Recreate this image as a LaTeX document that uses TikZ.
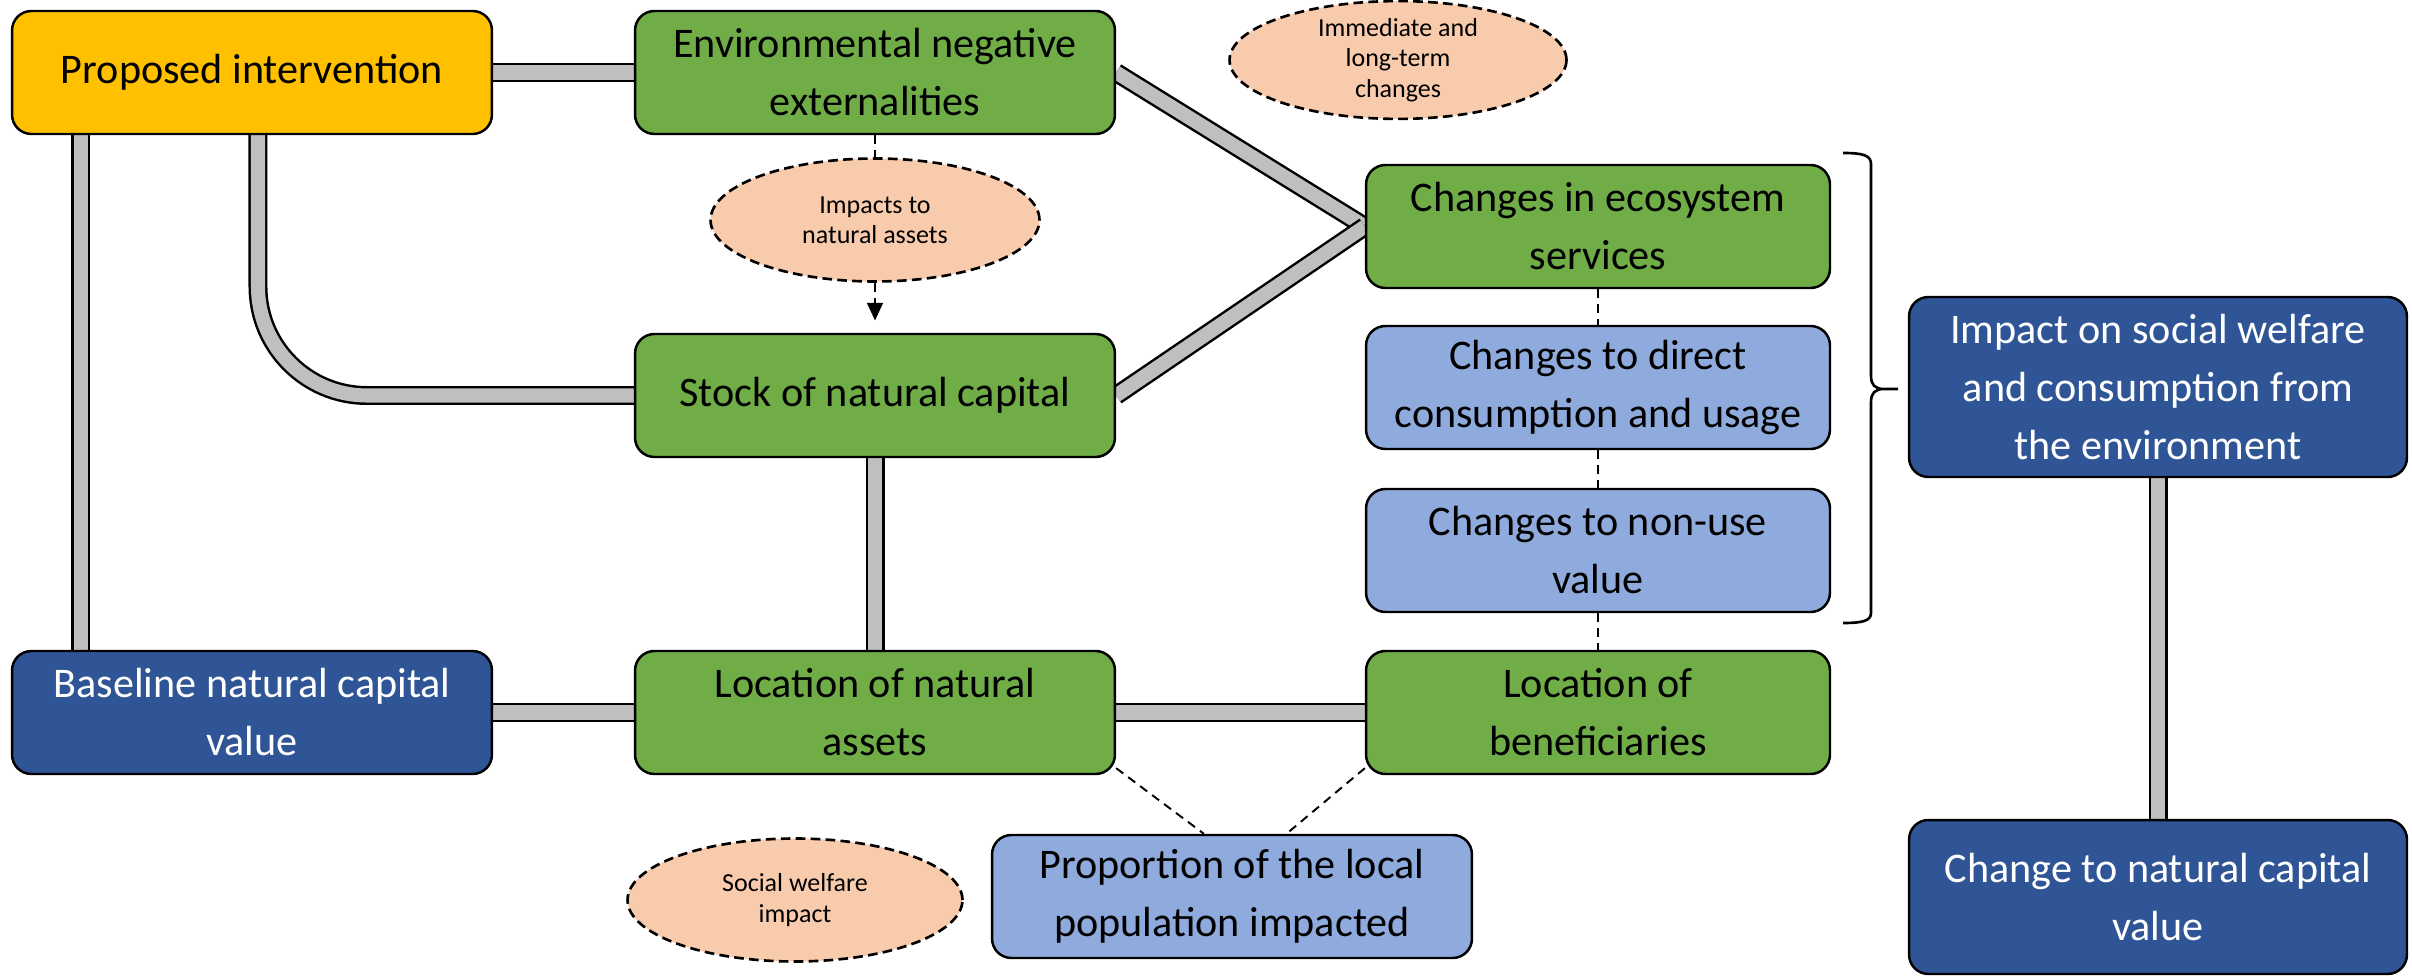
\documentclass[tikz,border=0pt]{standalone}
\usepackage{fontspec}
\setmainfont{Carlito}
\usetikzlibrary{shapes.geometric,arrows.meta}
\pgfdeclarelayer{bg}
\pgfsetlayers{bg,main}
\definecolor{cgreen}{HTML}{70AD47}
\definecolor{cdblue}{HTML}{2F5597}
\definecolor{clblue}{HTML}{8FAADC}
\definecolor{cyellow}{HTML}{FFC000}
\definecolor{cpeach}{HTML}{F8CBAD}
\definecolor{cpipe}{HTML}{BFBFBF}
\begin{document}
\begin{tikzpicture}[x=0.02cm,y=-0.02cm,
  box/.style={draw=black, line width=1.4pt, rounded corners=11pt, minimum width=9.6cm, minimum height=2.46cm, align=center, font=\fontsize{24}{33}\selectfont, inner sep=0pt, text=black},
  narrowbox/.style={box, minimum width=9.28cm},
  greenbox/.style={box, fill=cgreen},
  bluebox/.style={box, fill=clblue},
  darkbox/.style={box, fill=cdblue, text=white},
  yellowbox/.style={box, fill=cyellow},
  bubble/.style={ellipse, draw=black, line width=1.5pt, dash pattern=on 5.5pt off 3pt, fill=cpeach, align=center, font=\fontsize{14.8}{17.3}\selectfont, inner sep=0pt, minimum width=6.6cm, minimum height=2.46cm},
  pipe/.style={draw=black, line width=1.4pt, double=cpipe, double distance=8pt},
  dline/.style={draw=black, line width=1.1pt, dash pattern=on 5pt off 3.5pt},
  bracestyle/.style={draw=black, line width=1.5pt}
]
\useasboundingbox (0,0) rectangle (2412,979);

\node[yellowbox] (prop) at (252,72.5) {Proposed intervention};
\node[greenbox] (env) at (875,72.5) {Environmental negative\\externalities};
\node[greenbox] (stock) at (875,395.5) {Stock of natural capital};
\node[greenbox, narrowbox] (eco) at (1598,226.5) {Changes in ecosystem\\services};
\node[bluebox, narrowbox] (direct) at (1598,387.5) {Changes to direct\\consumption and usage};
\node[bluebox, narrowbox] (nonuse) at (1598,550.5) {Changes to non-use\\value};
\node[darkbox, minimum width=9.96cm, minimum height=3.6cm] (impact) at (2158,387) {Impact on social welfare\\and consumption from\\the environment};
\node[darkbox, minimum width=9.96cm, minimum height=3.08cm] (change) at (2158,897) {Change to natural capital\\value};
\node[darkbox] (base) at (252,712.5) {Baseline natural capital\\value};
\node[greenbox] (locna) at (875,712.5) {Location of natural\\assets};
\node[greenbox, narrowbox] (locben) at (1598,712.5) {Location of\\beneficiaries};
\node[bluebox] (popul) at (1232,896.5) {Proportion of the local\\population impacted};

\node[bubble, minimum width=6.74cm, minimum height=2.2cm] (imm) at (1398,60) {Immediate and\\long-term\\changes};
\node[bubble, minimum width=6.58cm] (imp) at (875,220) {Impacts to\\natural assets};
\node[bubble, minimum width=6.7cm] (soc) at (795,900) {Social welfare\\impact};

\begin{pgfonlayer}{bg}
\draw[pipe] (prop.east) -- (env.west);
\draw[pipe] ([xshift=-97.5pt]prop.south) -- ([xshift=-97.5pt]base.north);
\draw[pipe, rounded corners=62pt] ([xshift=3.4pt]prop.south) |- (stock.west);
\draw[pipe] (env.east) -- (eco.west);
\draw[pipe] (stock.east) -- (eco.west);
\draw[pipe] (stock.south) -- (locna.north);
\draw[pipe] (base.east) -- (locna.west);
\draw[pipe] (locna.east) -- (locben.west);
\draw[pipe] (impact.south) -- (change.north);
\end{pgfonlayer}

\draw[dline] (env.south) -- (imp.north);
\draw[dline, -{Triangle[length=10pt,width=9pt]}, shorten >=7pt] (imp.south) -- (stock.north);
\draw[dline] (eco.south) -- (direct.north);
\draw[dline] (direct.south) -- (nonuse.north);
\draw[dline] (nonuse.south) -- (locben.north);
\draw[dline] ([yshift=4pt]locna.south east) -- ([xshift=-16pt]popul.north);
\draw[dline] ([yshift=4pt]locben.south west) -- ([xshift=31pt]popul.north);

\draw[bracestyle] (1843,153) .. controls (1862,153) and (1871,155) .. (1871,164) -- (1871,376) .. controls (1871,385) and (1875,389) .. (1884,389) -- (1898,389) -- (1884,389) .. controls (1875,389) and (1871,393) .. (1871,402) -- (1871,613) .. controls (1871,621) and (1862,623) .. (1843,623);
\end{tikzpicture}
\end{document}
